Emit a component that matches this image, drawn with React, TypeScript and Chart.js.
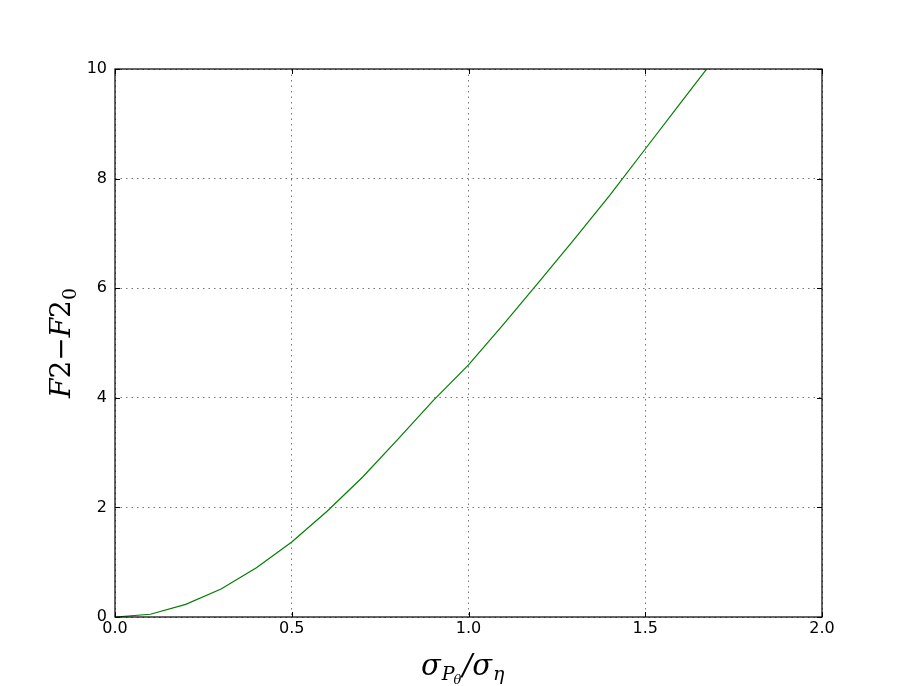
import React, { useEffect, useRef } from "react";
import { Chart, registerables } from "chart.js";

Chart.register(...registerables);

const xValues = [0, 0.1, 0.2, 0.3, 0.4, 0.5, 0.6, 0.7, 0.8, 0.9, 1.0, 1.1, 1.2, 1.3, 1.4, 1.5, 1.6, 1.7];
const yValues = [0, 0.05, 0.23, 0.51, 0.9, 1.37, 1.93, 2.55, 3.24, 3.95, 4.6, 5.35, 6.12, 6.9, 7.7, 8.54, 9.38, 10.22];
const xTicks = [0, 0.5, 1.0, 1.5, 2.0];
const yTicks = [0, 2, 4, 6, 8, 10];

const W = 913;
const H = 686;
const LEFT = 115;
const RIGHT = 822;
const TOP = 69;
const BOTTOM = 617;

const framePlugin = {
  id: "frame",
  afterDraw(chart: any) {
    const { ctx, chartArea: a, scales } = chart;
    const xs = scales.x;
    const ys = scales.y;
    ctx.save();
    ctx.strokeStyle = "#000";
    ctx.lineWidth = 1.2;
    ctx.strokeRect(a.left, a.top, a.right - a.left, a.bottom - a.top);
    ctx.lineWidth = 1;
    const tl = 5;
    ctx.beginPath();
    for (const t of xTicks) {
      const px = Math.round(xs.getPixelForValue(t)) + 0.5;
      ctx.moveTo(px, a.bottom);
      ctx.lineTo(px, a.bottom - tl);
      ctx.moveTo(px, a.top);
      ctx.lineTo(px, a.top + tl);
    }
    for (const t of yTicks) {
      const py = Math.round(ys.getPixelForValue(t)) + 0.5;
      ctx.moveTo(a.left, py);
      ctx.lineTo(a.left + tl, py);
      ctx.moveTo(a.right, py);
      ctx.lineTo(a.right - tl, py);
    }
    ctx.stroke();

    // x axis label: sigma_{P_theta}/sigma_eta
    ctx.fillStyle = "#000";
    ctx.textBaseline = "alphabetic";
    ctx.textAlign = "left";
    const base = 675;
    let x = 421;
    const big = 'italic 29px "DejaVu Serif"';
    const sub = 'italic 19px "DejaVu Serif"';
    const sub2 = 'italic 13px "DejaVu Serif"';
    ctx.font = big;
    ctx.fillText("σ", x, base);
    x += ctx.measureText("σ").width + 1;
    ctx.font = sub;
    ctx.fillText("P", x, base + 5);
    x += ctx.measureText("P").width - 1;
    ctx.font = sub2;
    ctx.fillText("θ", x, base + 9);
    x += ctx.measureText("θ").width + 1;
    ctx.font = big;
    ctx.fillText("/", x, base);
    x += ctx.measureText("/").width;
    ctx.fillText("σ", x, base);
    x += ctx.measureText("σ").width + 1;
    ctx.font = sub;
    ctx.fillText("η", x, base + 5);

    // y axis label: F2 − F2_0 rotated
    ctx.save();
    ctx.translate(70, 343);
    ctx.rotate(-Math.PI / 2);
    const yb = 'italic 28px "DejaVu Serif"';
    const parts: [string, string, number][] = [
      ["F", yb, 0],
      ["2", '28px "DejaVu Serif"', 0],
      ["−", '28px "DejaVu Serif"', 0],
      ["F", yb, 0],
      ["2", '28px "DejaVu Serif"', 0],
      ["0", '19px "DejaVu Serif"', 6],
    ];
    let total = 0;
    for (const [t, f] of parts) {
      ctx.font = f;
      total += ctx.measureText(t).width;
    }
    let cx = -total / 2;
    for (const [t, f, dy] of parts) {
      ctx.font = f;
      ctx.fillText(t, cx, dy);
      cx += ctx.measureText(t).width;
    }
    ctx.restore();
    ctx.restore();
  },
};

export default function App() {
  const ref = useRef<HTMLCanvasElement>(null);
  useEffect(() => {
    if (!ref.current) return;
    const chart = new Chart(ref.current, {
      type: "scatter",
      data: {
        datasets: [
          {
            data: xValues.map((x, i) => ({ x, y: yValues[i] })),
            showLine: true,
            borderColor: "#008000",
            backgroundColor: "#008000",
            borderWidth: 1.2,
            pointRadius: 0,
            tension: 0,
          },
        ],
      },
      options: {
        responsive: false,
        animation: false,
        maintainAspectRatio: false,
        layout: { padding: { left: 0, top: TOP, right: W - RIGHT, bottom: 0 } },
        plugins: {
          legend: { display: false },
          tooltip: { enabled: false },
        },
        scales: {
          x: {
            type: "linear",
            min: 0,
            max: 2,
            afterFit: (s: any) => {
              s.height = H - BOTTOM;
            },
            afterBuildTicks: (s: any) => {
              s.ticks = xTicks.map((v) => ({ value: v }));
            },
            ticks: {
              color: "#000",
              font: { family: "DejaVu Sans", size: 16 },
              padding: 2,
              maxRotation: 0,
              callback: (v: any) => Number(v).toFixed(1),
            },
            grid: {
              color: "#777",
              lineWidth: 1,
              drawTicks: false,
              tickLength: 0,
            },
            border: { display: false, dash: [1.5, 4] },
          },
          y: {
            type: "linear",
            min: 0,
            max: 10,
            afterFit: (s: any) => {
              s.width = LEFT;
            },
            afterBuildTicks: (s: any) => {
              s.ticks = yTicks.map((v) => ({ value: v }));
            },
            ticks: {
              color: "#000",
              font: { family: "DejaVu Sans", size: 16 },
              padding: 8,
              callback: (v: any) => String(v),
            },
            grid: {
              color: "#777",
              lineWidth: 1,
              drawTicks: false,
              tickLength: 0,
            },
            border: { display: false, dash: [1.5, 4] },
          },
        },
      },
      plugins: [framePlugin],
    } as any);
    return () => chart.destroy();
  }, []);
  return (
    <div style={{ position: "absolute", left: 0, top: 0, width: W, height: H, background: "#fff" }}>
      <canvas ref={ref} width={W} height={H} style={{ width: W, height: H, display: "block" }} />
    </div>
  );
}
